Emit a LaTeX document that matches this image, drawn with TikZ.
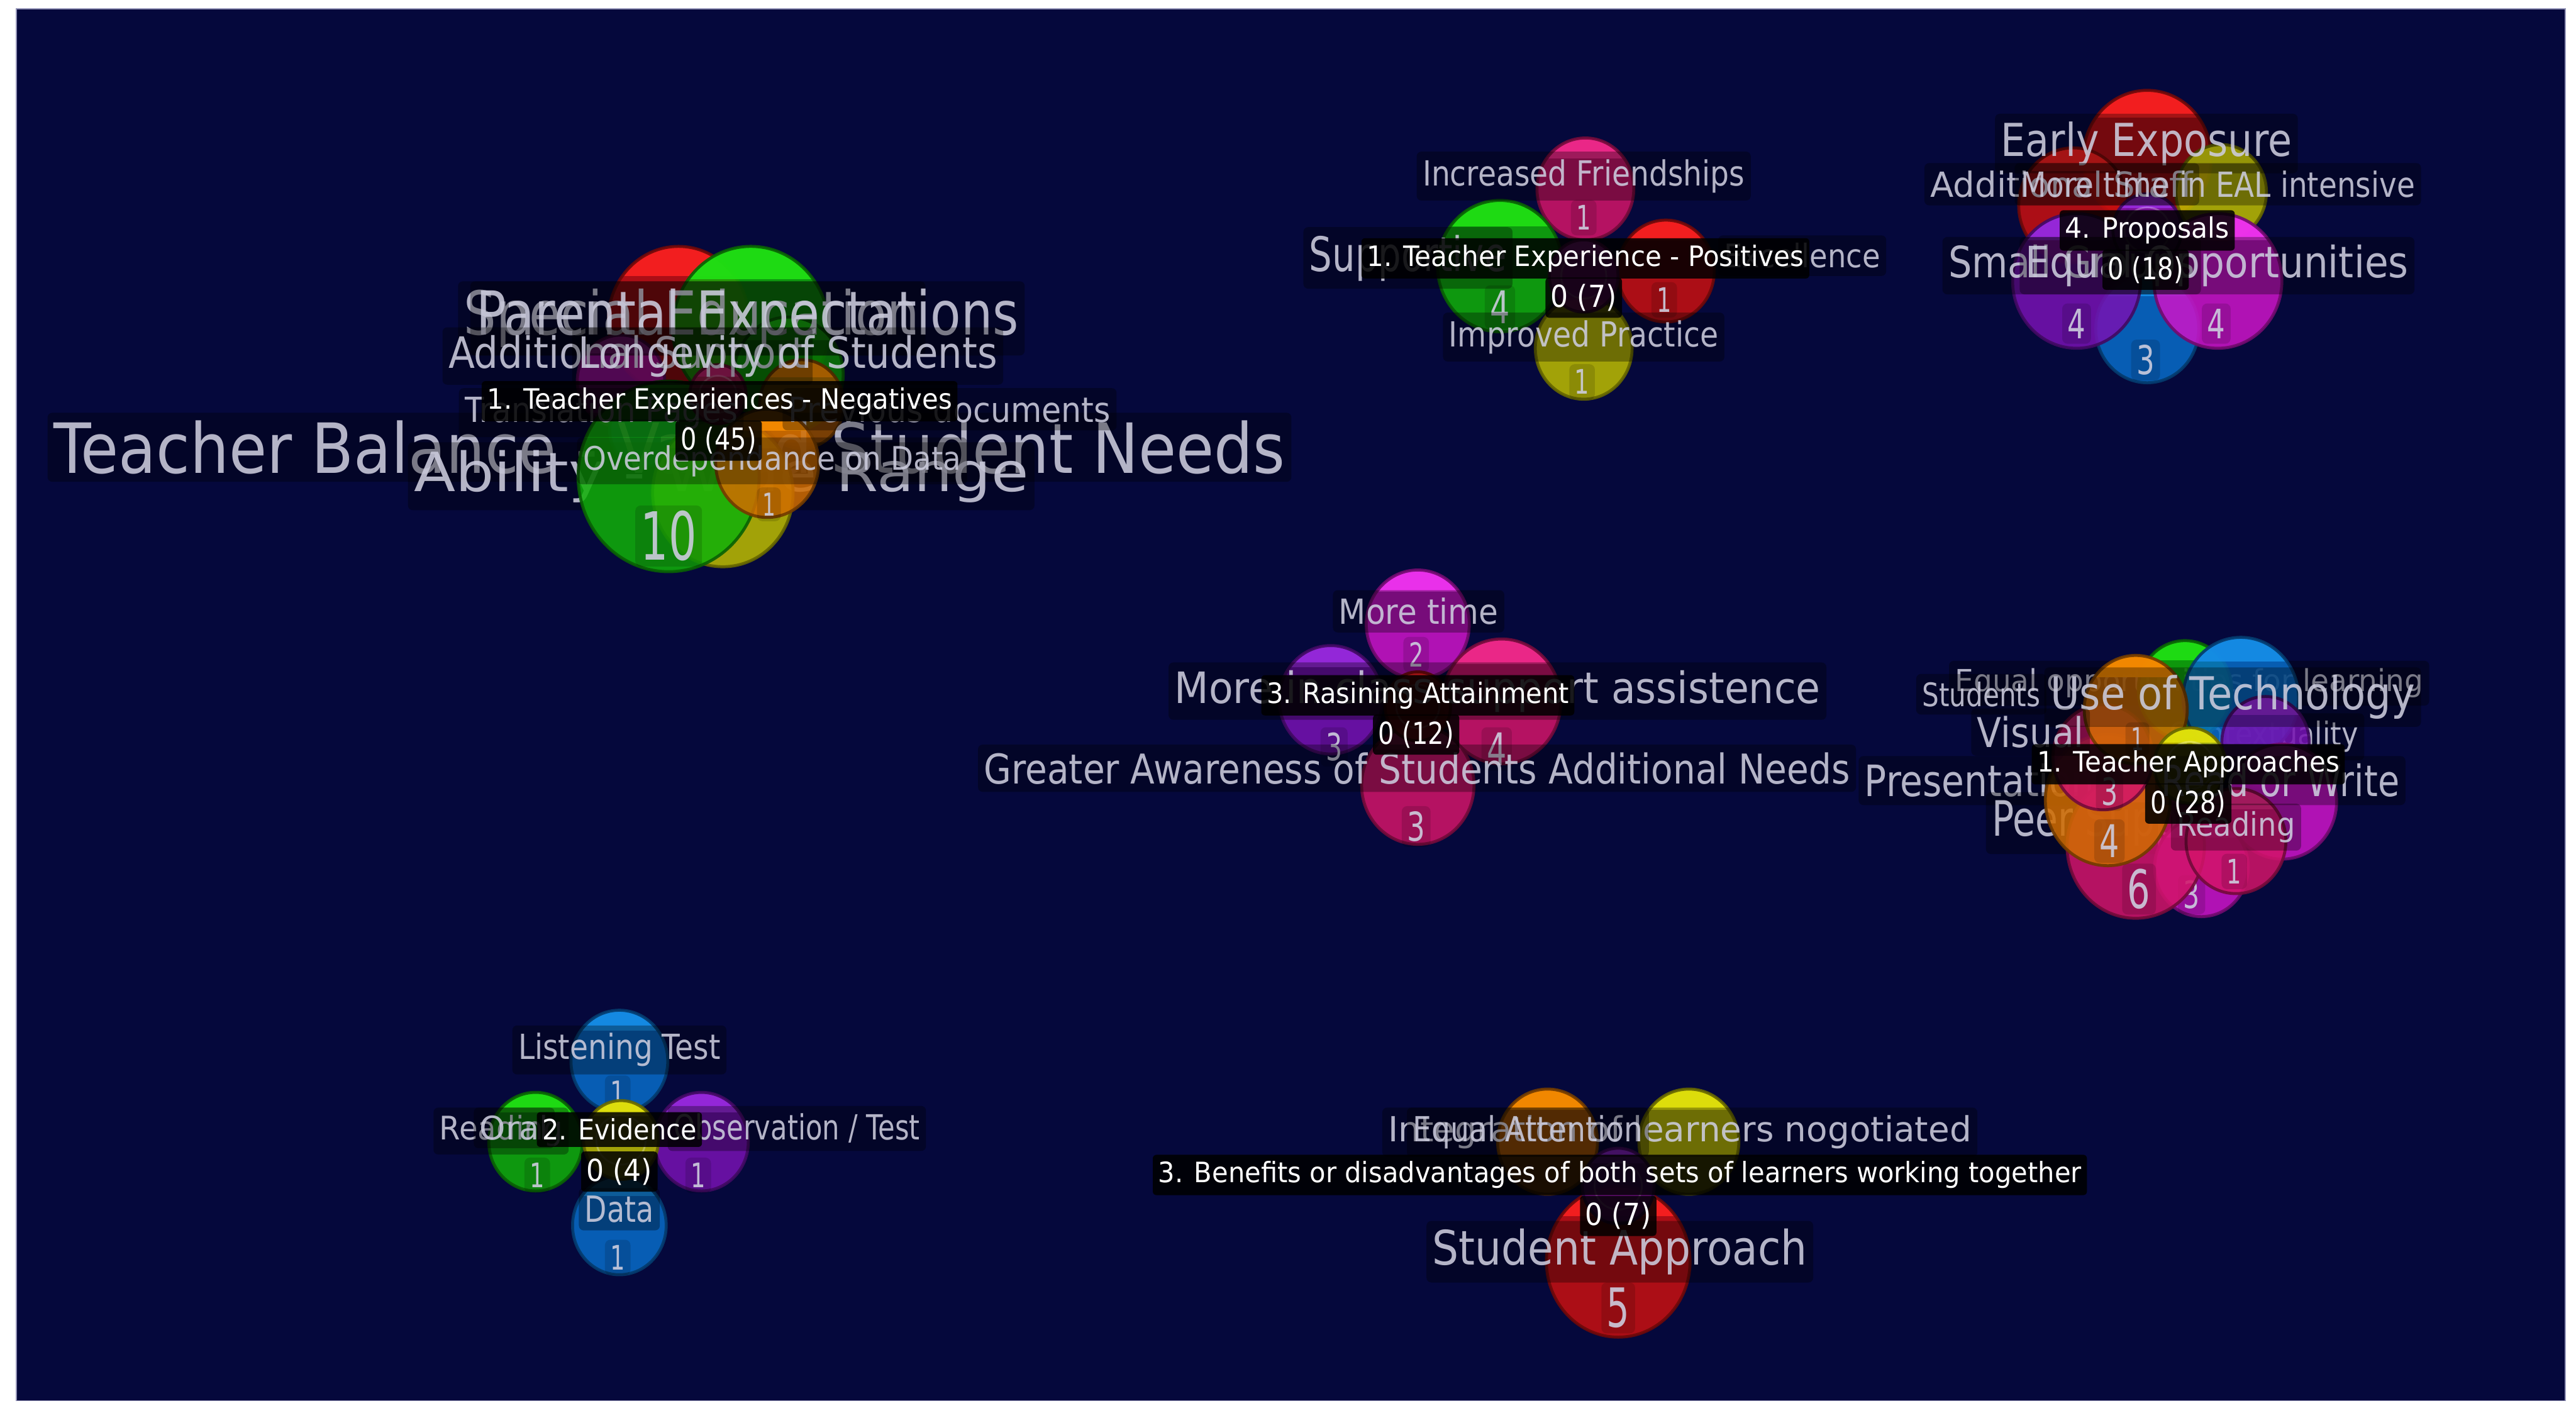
\documentclass[tikz,border=0pt]{standalone}
\usepackage{fontspec}
\setmainfont{DejaVu Sans}
\usepackage{graphicx}
\usetikzlibrary{shapes.geometric,calc}

\newdimen\unitpx
\unitpx=2.7557pt

\definecolor{bgnavy}{RGB}{5,8,60}
\definecolor{framec}{RGB}{150,150,185}
\definecolor{lbltext}{RGB}{205,205,222}
\definecolor{cred}{RGB}{200,16,16}     \definecolor{credhl}{RGB}{250,32,32}
\definecolor{cgreen}{RGB}{16,176,8}    \definecolor{cgreenhl}{RGB}{32,226,20}
\definecolor{cpink}{RGB}{210,20,105}   \definecolor{cpinkhl}{RGB}{240,42,140}
\definecolor{cmag}{RGB}{205,20,200}    \definecolor{cmaghl}{RGB}{240,52,240}
\definecolor{cpurp}{RGB}{118,18,178}   \definecolor{cpurphl}{RGB}{152,42,222}
\definecolor{cyel}{RGB}{188,188,0}     \definecolor{cyelhl}{RGB}{228,228,12}
\definecolor{corg}{RGB}{208,108,0}     \definecolor{corghl}{RGB}{248,140,0}
\definecolor{cblue}{RGB}{8,108,200}    \definecolor{cbluehl}{RGB}{22,142,232}

\tikzset{
  bubble/.style={ellipse, inner sep=0pt, line width=5pt, fill opacity=0.86, draw opacity=0.9},
  ringc/.style={circle, inner sep=0pt, draw=white, draw opacity=0.28, line width=3pt},
  lbl/.style={fill=black, fill opacity=0.32, text=lbltext, text opacity=0.88, rounded corners=8pt, inner xsep=10pt, inner ysep=13pt},
  catlbl/.style={fill=black, fill opacity=0.86, text=white, text opacity=1, rounded corners=6pt, inner xsep=9pt, inner ysep=11pt},
  numlbl/.style={fill=black, fill opacity=0.14, text=lbltext, text opacity=0.9, rounded corners=9pt, inner xsep=9pt, inner ysep=9pt},
}

\newcommand\bub[5]{%
  \node[bubble, fill=c#5, draw=c#5!55!black,
    minimum width={1.9*#4*2.7557pt}, minimum height={2*#4*2.7557pt},
    path picture={%
      \fill[c#5hl, fill opacity=0.9] (path picture bounding box.north west) rectangle ($(path picture bounding box.north east)!0.2!(path picture bounding box.south east)$);
    }] (#1) at (#2,#3) {};}
\newcommand\cbub[5]{\bub{#1}{#2}{#3}{#4}{#5}%
  \node[ringc, minimum size={1.25*#4*2.7557pt}] (#1r) at (#2,#3) {};}
\newcommand\blab[7]{\node[#6, anchor=base] (#1) at (#2,#3) {\resizebox{#4\unitpx}{#5\unitpx}{#7}};}
\newcommand\bnum[6]{\node[numlbl, anchor=base] (#1) at (#2,#3) {\resizebox{#4\unitpx}{#5\unitpx}{#6}};}

\begin{document}
\begin{tikzpicture}[x=2.7557pt,y=-2.7557pt]
\fill[white] (0,0) rectangle (1568,863);
\useasboundingbox (0,0) rectangle (1568,863);
\fill[bgnavy] (9.8,5.4) rectangle (1561.5,852.7);
\draw[framec, line width=2pt] (9.8,5.4) rectangle (1561.5,852.7);

% ---------- Cluster A: Teacher Experiences - Negatives
\bub{aRed}{413}{195}{45}{red}
\bub{aGrU}{457}{200}{50}{green}
\bub{aGrS}{480}{228}{35}{green}
\bub{aMag}{378}{232}{28}{mag}
\bub{aOrU}{488}{246}{27}{org}
\bub{aBlu}{392}{262}{22}{blue}
\blab{aTB}{407.5}{288}{749}{32}{lbl}{Teacher Balance - Varied Student Needs}
\blab{aAb}{439}{299}{374}{25}{lbl}{Ability - Wide Range}
\bub{aYel}{440}{300}{45}{yel}
\bub{aGrB}{407}{290}{58}{green}
\bnum{aN10}{407}{341}{34}{30}{10}
\bub{aOrL}{467}{282}{33}{org}
\bnum{aN1}{468}{314}{8}{14}{1}
\cbub{aCen}{437}{240}{18}{pink}
\blab{aSE}{421}{204}{277}{28}{lbl}{Special Education}
\blab{aPE}{455}{204}{330}{28}{lbl}{Parental Expectations}
\blab{aAS}{382}{224}{218}{20}{lbl}{Additional Support}
\blab{aLS}{479.5}{224}{255}{20}{lbl}{Longevity of Students}
\blab{aTr}{366}{257}{166}{16}{lbl}{Translation Pages}
\blab{aPd}{578}{257}{196}{16}{lbl}{Previous documents}
\blab{aOD}{470}{286}{230}{15}{lbl}{Overdependance on Data}
\blab{aCat}{438}{249}{283}{13}{catlbl}{1. Teacher Experiences - Negatives}
\blab{aCnt}{437.5}{274}{46}{14}{catlbl}{0 (45)}

% ---------- Cluster B: Teacher Experience - Positives
\bub{bPk}{965}{115}{31}{pink}
\bnum{bN1a}{964}{140}{9}{15}{1}
\bub{bGr}{913}{162}{40}{green}
\bnum{bN4}{913}{197}{12}{20}{4}
\bub{bRd}{1014}{165}{31}{red}
\bnum{bN1b}{1013}{190}{9}{15}{1}
\bub{bYe}{964}{212}{31}{yel}
\bnum{bN1c}{963}{240}{9}{15}{1}
\cbub{bCen}{964}{168}{22}{mag}
\blab{bIF}{964}{113}{196}{16}{lbl}{Increased Friendships}
\blab{bSu}{857}{165}{120}{22}{lbl}{Supportive}
\blab{bEx}{1097}{163}{95}{15}{lbl}{Excellence}
\blab{bIP}{964}{211}{164}{16}{lbl}{Improved Practice}
\blab{bCat}{965}{162}{266}{13}{catlbl}{1. Teacher Experience - Positives}
\blab{bCnt}{964}{187}{40}{14}{catlbl}{0 (7)}

% ---------- Cluster C: Proposals
\bub{cRdT}{1307}{96}{41}{red}
\bub{cRdL}{1262}{125}{35}{red}
\bub{cYe}{1352}{117}{29}{yel}
\bub{cBl}{1307}{200}{33}{blue}
\bnum{cN3}{1306}{228}{11}{18}{3}
\bub{cPu}{1264}{171}{41}{purp}
\bnum{cN4a}{1264}{206}{11}{18}{4}
\bub{cMg}{1350}{171}{41}{mag}
\bnum{cN4b}{1349}{206}{11}{18}{4}
\cbub{cCen}{1307}{140}{22}{purp}
\blab{cEE}{1306.5}{95}{177}{21}{lbl}{Early Exposure}
\blab{cAS}{1255}{120}{160}{16}{lbl}{Additional Staff}
\blab{cMT}{1350}{120}{240}{16}{lbl}{More time in EAL intensive}
\blab{cSG}{1261}{169}{150}{20}{lbl}{Small Groups}
\blab{cEO}{1349.5}{169}{233}{20}{lbl}{Equal Opportunities}
\blab{cCat}{1307}{145}{100}{13}{catlbl}{4. Proposals}
\blab{cCnt}{1306}{170}{46}{14}{catlbl}{0 (18)}

% ---------- Cluster D: Rasining Attainment
\bub{dMg}{863}{380}{33}{mag}
\bnum{dN2}{862}{406}{9}{15}{2}
\bub{dPu}{810}{426}{33}{purp}
\bnum{dN3}{812}{463}{10}{17}{3}
\bub{dPk}{914}{427}{38}{pink}
\bnum{dN4}{911}{466}{12}{20}{4}
\bub{dPkB}{863}{478}{36}{pink}
\bnum{dN3b}{862}{512}{11}{18}{3}
\cbub{dCen}{863}{430}{21}{red}
\blab{dMT}{863.5}{380}{97}{16}{lbl}{More time}
\blab{dMS}{911.5}{428}{393}{20}{lbl}{More in class support assistence}
\blab{dGA}{862.5}{477}{527}{19}{lbl}{Greater Awareness of Students Additional Needs}
\blab{dCat}{863}{428}{184}{13}{catlbl}{3. Rasining Attainment}
\blab{dCnt}{862}{453}{46}{14}{catlbl}{0 (12)}

% ---------- Cluster E: Teacher Approaches
\blab{eEO}{1332.5}{421}{285}{14}{lbl}{Equal opportunities for learning}
\blab{ePr}{1205}{485}{140}{20}{lbl}{Presentation}
\blab{ePS}{1285}{509}{145}{22}{lbl}{Peer Support}
\blab{eCo}{1378}{454}{115}{15}{lbl}{Contextuality}
\bub{eGr}{1330}{420}{30}{green}
\bub{eBl}{1364}{425}{37}{blue}
\bub{ePu}{1379}{452}{28}{purp}
\bub{eMgR}{1389}{488}{35}{mag}
\bub{eMgB}{1340}{528}{30}{mag}
\bnum{eN3b}{1334}{553}{10}{17}{3}
\bub{ePkB}{1300}{515}{44}{pink}
\bnum{eN6}{1302}{553}{14}{24}{6}
\bub{eOrL}{1283}{487}{40}{org}
\bnum{eN4}{1284}{522}{12}{20}{4}
\bub{ePkL}{1280}{461}{32}{pink}
\bnum{eN3}{1284}{490}{10}{17}{3}
\bub{eOrU}{1300}{432}{33}{org}
\bnum{eN1}{1301}{457}{8}{14}{1}
\bub{ePkR}{1361}{512}{32}{pink}
\bnum{eN1b}{1360}{538}{9}{15}{1}
\cbub{eCen}{1333}{466}{23}{yel}
\blab{eSt}{1206}{430}{72}{15}{lbl}{Students}
\blab{eUT}{1359}{432}{222}{21}{lbl}{Use of Technology}
\blab{eVi}{1236}{455}{65}{19}{lbl}{Visual}
\blab{eRW}{1388}{485}{145}{20}{lbl}{Read or Write}
\blab{eRe}{1361}{509}{72}{15}{lbl}{Reading}
\blab{eCat}{1332}{470}{184}{13}{catlbl}{1. Teacher Approaches}
\blab{eCnt}{1332}{495}{46}{14}{catlbl}{0 (28)}

% ---------- Cluster F: Evidence
\bub{fBlT}{377}{646}{31}{blue}
\bnum{fN1a}{376}{672}{9}{14}{1}
\bub{fGr}{326}{695}{30}{green}
\bnum{fN1b}{327}{723}{9}{15}{1}
\bub{fPu}{427}{695}{30}{purp}
\bnum{fN1c}{425}{723}{9}{15}{1}
\bub{fBlB}{377}{746}{30}{blue}
\bnum{fN1d}{376}{773}{9}{15}{1}
\cbub{fCen}{378}{694}{24}{yel}
\blab{fLT}{377}{645}{123}{16}{lbl}{Listening Test}
\blab{fRe}{305}{694}{75}{15}{lbl}{Reading}
\blab{fOr}{313}{694}{42}{15}{lbl}{Oral}
\blab{fOT}{485}{694}{150}{16}{lbl}{Observation / Test}
\blab{fDa}{377}{744}{42}{16}{lbl}{Data}
\blab{fCat}{377}{694}{94}{13}{catlbl}{2. Evidence}
\blab{fCnt}{377}{719}{40}{14}{catlbl}{0 (4)}

% ---------- Cluster G: Benefits or disadvantages
\bub{gOr}{942}{695}{32}{org}
\bub{gYe}{1028}{695}{32}{yel}
\bub{gRd}{985}{768}{46}{red}
\bnum{gN5}{985}{808}{14}{24}{5}
\cbub{gCen}{985}{722}{23}{purp}
\blab{gIn}{1022.5}{695}{355}{16}{lbl}{Integration of learners nogotiated}
\blab{gEA}{930}{695}{140}{16}{lbl}{Equal Attention}
\blab{gSA}{986}{770}{228}{22}{lbl}{Student Approach}
\blab{gCat}{986}{720}{562}{13}{catlbl}{3. Benefits or disadvantages of both sets of learners working together}
\blab{gCnt}{985}{746}{40}{14}{catlbl}{0 (7)}
\end{tikzpicture}
\end{document}
